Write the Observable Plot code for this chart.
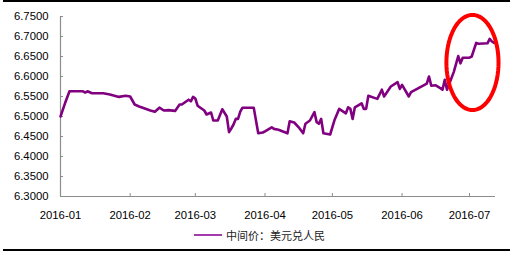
<!DOCTYPE html>
<html>
<head>
<meta charset="utf-8">
<script src="https://cdn.jsdelivr.net/npm/d3@7"></script>
<script src="https://cdn.jsdelivr.net/npm/@observablehq/plot@0.6"></script>
<style>
  html, body { margin: 0; padding: 0; background: #fff; }
  #wrap { position: relative; width: 510px; height: 254px; overflow: hidden; font-family: "Liberation Sans", Arial, sans-serif; }
  #topline { position: absolute; left: 3px; top: 0px; width: 507px; height: 2px; background: #000; }
  #botline { position: absolute; left: 3px; top: 249px; width: 507px; height: 2px; background: #000; }
  #chart { position: absolute; left: 0; top: 0; }
  #legend { position: absolute; left: 194px; top: 227px; height: 16px; display: flex; align-items: center; font-family: "Noto Sans CJK SC", sans-serif; font-size: 11px; color: #222; }
  #legend .sw { display: inline-block; width: 28px; height: 2px; background: #a23cae; margin-right: 4px; }
</style>
</head>
<body>
<div id="wrap">
  <div id="topline"></div>
  <div id="chart"></div>
  <div id="legend"><span class="sw"></span><span id="legtext"></span></div>
  <div id="botline"></div>
</div>
<script>
const seriesName = "中间价：美元兑人民";
const dates = [
  "2016-01-01","2016-01-03","2016-01-05","2016-01-11","2016-01-12","2016-01-13","2016-01-15","2016-01-20",
  "2016-01-23","2016-01-27","2016-01-30","2016-02-01","2016-02-03","2016-02-05","2016-02-10","2016-02-12",
  "2016-02-14","2016-02-16","2016-02-18","2016-02-21","2016-02-23","2016-02-24","2016-02-27","2016-02-28",
  "2016-02-29","2016-03-01","2016-03-02","2016-03-05","2016-03-06","2016-03-08","2016-03-09","2016-03-11",
  "2016-03-13","2016-03-15","2016-03-16","2016-03-17","2016-03-18","2016-03-19","2016-03-20","2016-03-21",
  "2016-03-22","2016-03-27","2016-03-29","2016-03-31","2016-04-01","2016-04-04","2016-04-05","2016-04-07",
  "2016-04-11","2016-04-12","2016-04-14","2016-04-16","2016-04-18","2016-04-19","2016-04-21","2016-04-23",
  "2016-04-24","2016-04-25","2016-04-26","2016-04-27","2016-04-30","2016-05-02","2016-05-04","2016-05-07",
  "2016-05-08","2016-05-09","2016-05-10","2016-05-11","2016-05-14","2016-05-15","2016-05-16","2016-05-17",
  "2016-05-20","2016-05-21","2016-05-23","2016-05-24","2016-05-27","2016-05-30","2016-05-31","2016-06-01",
  "2016-06-04","2016-06-05","2016-06-11","2016-06-12","2016-06-13","2016-06-14","2016-06-16","2016-06-18",
  "2016-06-19","2016-06-20","2016-06-21","2016-06-24","2016-06-26","2016-06-27","2016-06-28","2016-07-01",
  "2016-07-02","2016-07-04","2016-07-05","2016-07-09","2016-07-10","2016-07-11","2016-07-12"
];
const values = [
  6.500,6.533,6.563,6.563,6.560,6.563,6.558,6.558,
  6.555,6.549,6.552,6.550,6.530,6.525,6.515,6.512,
  6.522,6.515,6.516,6.514,6.530,6.530,6.542,6.538,
  6.549,6.545,6.527,6.515,6.505,6.510,6.490,6.490,
  6.518,6.500,6.461,6.470,6.480,6.494,6.494,6.512,
  6.522,6.522,6.458,6.460,6.463,6.473,6.469,6.467,
  6.458,6.488,6.485,6.473,6.458,6.482,6.490,6.511,
  6.486,6.482,6.494,6.458,6.455,6.492,6.519,6.508,
  6.523,6.519,6.494,6.523,6.533,6.519,6.519,6.552,
  6.546,6.544,6.567,6.550,6.575,6.586,6.569,6.579,
  6.550,6.561,6.579,6.582,6.600,6.577,6.578,6.571,
  6.567,6.592,6.567,6.611,6.651,6.633,6.647,6.647,
  6.650,6.684,6.682,6.683,6.694,6.6875,6.684
];
const yTicks = [6.30, 6.35, 6.40, 6.45, 6.50, 6.55, 6.60, 6.65, 6.70, 6.75];
const xTicks = ["2016-01","2016-02","2016-03","2016-04","2016-05","2016-06","2016-07"];
const xDomain = ["2016-01-01", "2016-07-12T14:00"];
// highlight ellipse annotation: center date, center value, half-width in days, half-height in value units
const highlight = { center: "2016-07-02T08:00", value: 6.635, rxDays: 11.6, ry: 0.119 };

document.getElementById("legtext").textContent = seriesName;

const parse = d3.utcParse("%Y-%m-%d");
const parseT = s => new Date(s.length > 10 ? s + "Z" : s + "T00:00Z");
const data = dates.map((d, i) => ({ date: parse(d), value: values[i] }));
const tickDates = xTicks.map(t => d3.utcParse("%Y-%m")(t));

const c = parseT(highlight.center).getTime();
const day = 864e5;
const ellipse = d3.range(0, 73).map(k => {
  const a = (k / 72) * 2 * Math.PI;
  return { date: new Date(c + Math.cos(a) * highlight.rxDays * day), value: highlight.value + Math.sin(a) * highlight.ry };
});

const axisColor = "#8c8c8c";
const chart = Plot.plot({
  width: 510,
  height: 225,
  marginLeft: 60,
  marginRight: 15,
  marginTop: 16,
  marginBottom: 29,
  style: { fontFamily: "'Liberation Sans', Arial, sans-serif", fontSize: "11.3px", color: "#111", background: "transparent", overflow: "visible" },
  x: { type: "utc", domain: xDomain.map(parseT), label: null },
  y: { domain: [6.30, 6.75], label: null },
  marks: [
    Plot.ruleY([6.30], { stroke: axisColor, strokeWidth: 1.2 }),
    Plot.ruleX([parseT(xDomain[0])], { stroke: axisColor, strokeWidth: 1.2 }),
    Plot.axisY({ ticks: yTicks, tickSize: 3, dx: 3, tickFormat: () => "", stroke: axisColor }),
    Plot.axisY({ ticks: yTicks, tickSize: 0, tickPadding: 12, tickFormat: d3.format(".4f"), fill: "#000" }),
    Plot.axisX({ ticks: tickDates, tickSize: 3, dy: -3, tickFormat: () => "", stroke: axisColor }),
    Plot.axisX({ ticks: tickDates, tickSize: 0, tickPadding: 14, tickFormat: d3.utcFormat("%Y-%m"), fill: "#000" }),
    Plot.lineY(data, { x: "date", y: "value", stroke: "#800080", strokeWidth: 2.6, strokeLinejoin: "round" }),
    Plot.line(ellipse, { x: "date", y: "value", stroke: "#ff0000", strokeWidth: 4, clip: false })
  ]
});
document.getElementById("chart").appendChild(chart);
</script>
</body>
</html>
